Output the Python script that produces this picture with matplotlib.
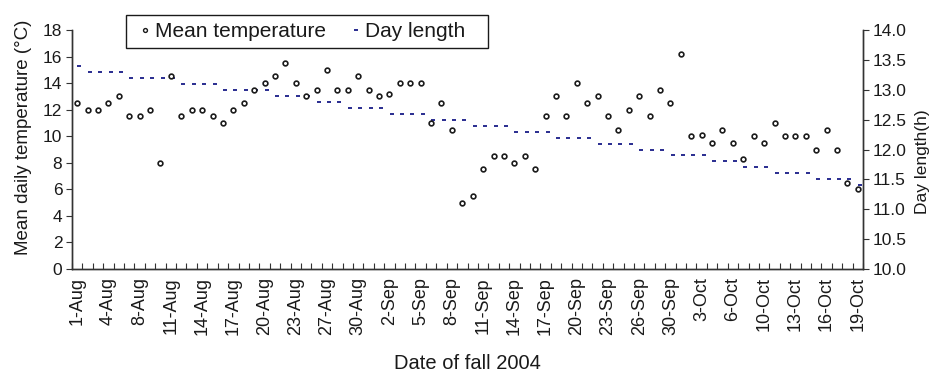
import matplotlib
matplotlib.use("Agg")
import matplotlib.pyplot as plt
import matplotlib.transforms as mtransforms
from matplotlib.patches import Rectangle
import pandas as pd
import numpy as np

plt.rcParams['font.family'] = ['Liberation Sans', 'DejaVu Sans']

# categories: observation dates (four days without records)
missing = ['2004-08-06', '2004-08-25', '2004-09-28', '2004-10-08']
dates = [d for d in pd.date_range('2004-08-01', '2004-10-19') if d.strftime('%Y-%m-%d') not in missing]
date_labels = [f"{d.day}-{d.strftime('%b')}" for d in dates]

mean_temp = [12.5, 12, 12, 12.5, 13, 11.5, 11.5, 12, 8, 14.5,
             11.5, 12, 12, 11.5, 11, 12, 12.5, 13.5, 14, 14.5,
             15.5, 14, 13, 13.5, 15, 13.5, 13.5, 14.5, 13.5, 13,
             13.2, 14, 14, 14, 11, 12.5, 10.5, 5, 5.5, 7.5,
             8.5, 8.5, 8, 8.5, 7.5, 11.5, 13, 11.5, 14, 12.5,
             13, 11.5, 10.5, 12, 13, 11.5, 13.5, 12.5, 16.2, 10,
             10.1, 9.5, 10.5, 9.5, 8.3, 10, 9.5, 11, 10, 10,
             10, 9, 10.5, 9, 6.5, 6]

day_length = [13.4, 13.3, 13.3, 13.3, 13.3, 13.2, 13.2, 13.2, 13.2, 13.2,
              13.1, 13.1, 13.1, 13.1, 13.0, 13.0, 13.0, 13.0, 13.0, 12.9,
              12.9, 12.9, 12.9, 12.8, 12.8, 12.8, 12.7, 12.7, 12.7, 12.7,
              12.6, 12.6, 12.6, 12.6, 12.5, 12.5, 12.5, 12.5, 12.4, 12.4,
              12.4, 12.4, 12.3, 12.3, 12.3, 12.3, 12.2, 12.2, 12.2, 12.2,
              12.1, 12.1, 12.1, 12.1, 12.0, 12.0, 12.0, 11.9, 11.9, 11.9,
              11.9, 11.8, 11.8, 11.8, 11.7, 11.7, 11.7, 11.6, 11.6, 11.6,
              11.6, 11.5, 11.5, 11.5, 11.5, 11.4]

x = np.arange(len(date_labels))

W, H = 938, 375
fig = plt.figure(figsize=(W / 100, H / 100), dpi=100)
ax = fig.add_axes([72 / W, 1 - 269 / H, (863 - 72) / W, (269 - 30) / H])
ax2 = ax.twinx()

dash_marker = [(-1, -0.55), (1, -0.55), (1, 0.55), (-1, 0.55), (-1, -0.55)]
navy = '#2E3192'

ax.plot(x, mean_temp, linestyle='none', marker='o', ms=3.4, mfc='white',
        mec='#1a1a1a', mew=1.2, zorder=3)
shift = mtransforms.ScaledTranslation(1.5 / 72, 0, fig.dpi_scale_trans)
ax2.plot(x, day_length, linestyle='none', marker=dash_marker, ms=3.5, mew=0,
         color=navy, zorder=2, transform=ax2.transData + shift)
ax.set_zorder(ax2.get_zorder() + 1)
ax.patch.set_visible(False)

ax.set_xlim(-0.5, len(x) - 0.5)
ax.set_ylim(0, 18)
ax.set_yticks(np.arange(0, 19, 2))
ax2.set_ylim(10, 14)
ax2.set_yticks(np.arange(10, 14.01, 0.5))
ax2.set_yticklabels([f"{v:.1f}" for v in np.arange(10, 14.01, 0.5)])

ax.set_xticks(x[::3])
ax.set_xticklabels(date_labels[::3], rotation=90, fontsize=13)
ax.set_xticks(np.arange(-0.5, len(x), 1), minor=True)
ax.tick_params(axis='x', which='major', length=0, pad=6, colors='#1a1a1a')
ax.tick_params(axis='x', which='minor', direction='in', length=4, width=0.8, color='#333333')
ax.tick_params(axis='y', direction='out', length=4, width=0.8, labelsize=12.5, pad=3,
               color='#333333', labelcolor='#1a1a1a')
ax2.tick_params(axis='y', direction='out', length=4, width=0.8, labelsize=12.5, pad=3,
                color='#333333', labelcolor='#1a1a1a')

for a in (ax, ax2):
    a.spines['top'].set_visible(False)
    for s in ('left', 'right', 'bottom'):
        a.spines[s].set_color('#333333')
        a.spines[s].set_linewidth(1.0)

ax.set_ylabel('Mean daily temperature (°C)', fontsize=13.5, color='#1a1a1a')
ax.yaxis.set_label_coords(-0.051, 0.55)
ax2.set_ylabel('Day length(h)', fontsize=12.5, color='#1a1a1a')
ax2.yaxis.set_label_coords(1.066, 0.45)
ax.set_xlabel('Date of fall 2004', fontsize=14.5, labelpad=13, color='#1a1a1a')

# legend with a hand-placed frame
fig.patches.append(Rectangle((126 / W, 1 - 48 / H), 362 / W, 33 / H, transform=fig.transFigure,
                             fill=False, edgecolor='#1a1a1a', linewidth=1.0))
leg_t, = ax.plot([], [], linestyle='none', marker='o', ms=2.8, mfc='white', mec='#1a1a1a', mew=1.0)
leg_d, = ax.plot([], [], linestyle='none', marker=dash_marker, ms=3.0, mew=0, color=navy)
fig.legend([leg_t, leg_d], ['Mean temperature', 'Day length'], ncol=2,
           loc='center left', bbox_to_anchor=(140 / W, 1 - 31.5 / H),
           fontsize=15, frameon=False, borderpad=0, borderaxespad=0,
           handlelength=0.5, handletextpad=0.2, columnspacing=1.2, labelcolor='#1a1a1a')

fig.savefig('out.png', dpi=100)
